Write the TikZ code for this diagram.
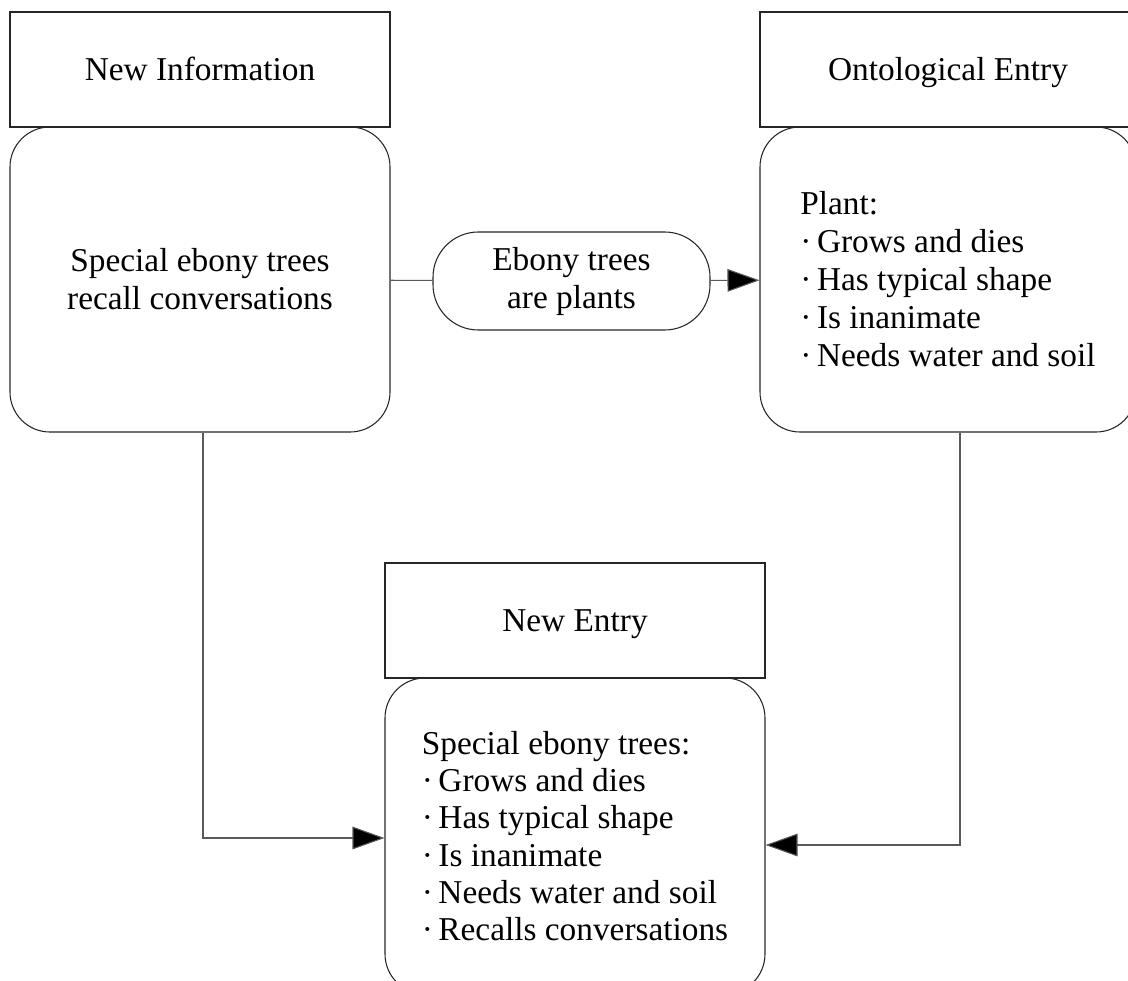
\documentclass[tikz,border=0pt]{standalone}
\usepackage{fontspec}
\setmainfont{Liberation Serif}
\usetikzlibrary{arrows.meta}
\tikzset{
  head/.style={draw=black!85,line width=0.8pt,rectangle,minimum width=285pt,minimum height=86.25pt,inner sep=0pt,text height=17pt,text depth=1pt},
  body/.style={draw=black!85,line width=0.8pt,rectangle,rounded corners=30pt,minimum width=285pt,inner sep=0pt},
  pill/.style={draw=black!85,line width=0.8pt,rectangle,rounded corners=34pt,minimum width=207.75pt,minimum height=73.5pt,align=center,inner sep=0pt},
  link/.style={draw=black!65,line width=0.8pt,-{Triangle[length=24pt,width=17pt,fill=black]}}
}
\begin{document}
\begin{tikzpicture}[x=0.75pt,y=-0.75pt,font=\fontsize{25}{28.5}\selectfont]
      \useasboundingbox (0,0) rectangle (1128,981);
      \draw
        (200,69.5) node[head] (infohead){New Information}
        (200,279.5) node[body,minimum height=228.75pt,align=center] (info){Special ebony trees\\recall conversations}
        (948,69.5) node[head,minimum width=282pt] (ontohead){Ontological Entry}
        (948,279.5) node[body,minimum width=282pt,minimum height=228.75pt,align=left] (onto){Plant:\\·\,Grows and dies\\·\,Has typical shape\\·\,Is inanimate\\·\,Needs water and soil}
        (571.5,281) node[pill] (isa){Ebony trees\\are plants}
        (575,620.5) node[head] (entryhead){New Entry}
        (575,836) node[body,minimum height=237pt,align=left,font=\fontsize{25}{28}\selectfont] (entry){Special ebony trees:\\·\,Grows and dies\\·\,Has typical shape\\·\,Is inanimate\\·\,Needs water and soil\\·\,Recalls conversations};
      \begin{scope}[link]
        \draw[-] (info) to (isa);
        \draw (isa) to (onto);
        \draw ([xshift=2.25pt]info.south) |- ([yshift=-1.5pt]entry.west);
        \draw ([xshift=9pt]onto.south) |- ([yshift=-6.75pt]entry.east);
      \end{scope}
    \end{tikzpicture}
\end{document}
